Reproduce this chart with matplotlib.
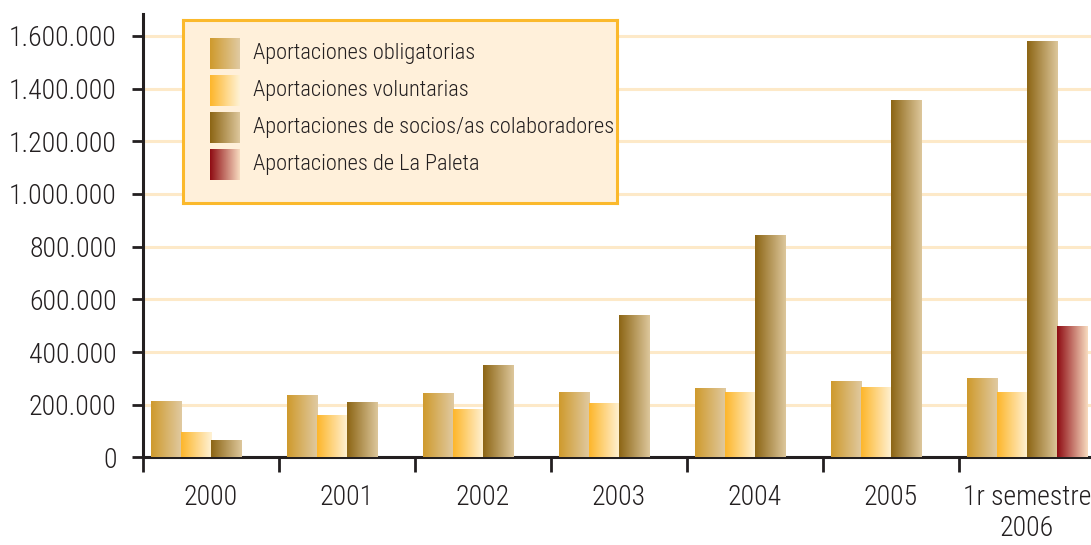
import numpy as np
import matplotlib
matplotlib.use('Agg')
import matplotlib.pyplot as plt
from matplotlib import font_manager
from matplotlib.colors import LinearSegmentedColormap

# data
years = ['2000', '2001', '2002', '2003', '2004', '2005', '1r semestre\n2006']
series = ['Aportaciones obligatorias', 'Aportaciones voluntarias',
          'Aportaciones de socios/as colaboradores', 'Aportaciones de La Paleta']
obligatorias = [211000, 234000, 241000, 245000, 260000, 286000, 298000]
voluntarias = [93000, 158000, 181000, 203000, 245000, 264000, 245000]
socios = [63000, 207000, 348000, 538000, 841000, 1351000, 1575000]
paleta = [0, 0, 0, 0, 0, 0, 495000]
yticks = [0, 200000, 400000, 600000, 800000, 1000000, 1200000, 1400000, 1600000]

# gradient colours (left -> right) per series
grads = [('#cf9a2c', '#e0caa2'), ('#fdb62a', '#fff2d6'),
         ('#8c6514', '#ddc79c'), ('#8e0b12', '#f8dcc0')]

names = {f.name for f in font_manager.fontManager.ttflist}
font = next((n for n in ['Liberation Sans Narrow', 'Roboto Condensed', 'Open Sans Condensed']
             if n in names), 'Liberation Sans')
plt.rcParams['font.family'] = [font, 'DejaVu Sans']
plt.rcParams['font.weight'] = 'light'
txt = '#231f20'

fig = plt.figure(figsize=(10.91, 5.45), dpi=100)
ax = fig.add_axes([0.1311, 0.1606, 0.8726, 0.8138])

grad = np.linspace(0, 1, 256).reshape(1, -1)
bw = 0.2206
vals = [obligatorias, voluntarias, socios, paleta]
for j, v in enumerate(vals):
    cmap = LinearSegmentedColormap.from_list('g%d' % j, grads[j])
    for i, h in enumerate(v):
        if h <= 0:
            continue
        x0 = i + (j - 1.5) * bw - bw / 2
        ax.imshow(grad, extent=[x0, x0 + bw, 0, h], cmap=cmap, aspect='auto',
                  interpolation='bicubic', zorder=3)

ax.set_xlim(-0.5, 6.5)
ax.set_ylim(0, 1683000)

for s in ['top', 'right']:
    ax.spines[s].set_visible(False)
for s in ['left', 'bottom']:
    ax.spines[s].set_color(txt)
    ax.spines[s].set_linewidth(2.2)

ax.set_yticks(yticks)
ax.set_yticklabels(['{:,.0f}'.format(t).replace(',', '.') for t in yticks])
ax.tick_params(axis='y', length=8, width=2, color=txt, pad=11, labelsize=20, labelcolor=txt)
ax.yaxis.grid(True, color='#fde9c8', linewidth=2.2)
ax.set_axisbelow(True)

ax.set_xticks(np.arange(-0.5, 7.0, 1.0))
ax.set_xticklabels([])
ax.set_xticks(np.arange(len(years)), minor=True)
ax.set_xticklabels(years, minor=True)
ax.tick_params(axis='x', which='major', length=11, width=2, color=txt)
ax.tick_params(axis='x', which='minor', length=0, pad=19, labelsize=20, labelcolor=txt)

# legend box
lg = fig.add_axes([183 / 1091, (545 - 203) / 545, 434 / 1091, 183 / 545])
lg.set_facecolor('#fff0da')
for s in lg.spines.values():
    s.set_color('#fbb92c')
    s.set_linewidth(2.2)
lg.set_xticks([])
lg.set_yticks([])
for j, name in enumerate(series):
    top = 18 + 37 * j
    cmap = LinearSegmentedColormap.from_list('l%d' % j, grads[j])
    lg.imshow(grad, extent=[27, 57, top + 31, top], cmap=cmap, aspect='auto',
              interpolation='bicubic')
    lg.text(70, top + 15.5, name, va='center', ha='left', fontsize=16.1, color=txt)
lg.set_xlim(0, 434)
lg.set_ylim(183, 0)

fig.savefig('out.png', dpi=100)
